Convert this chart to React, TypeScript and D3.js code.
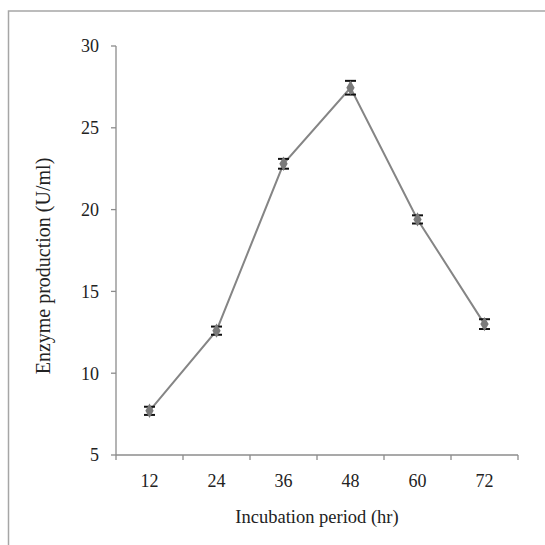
import React from 'react';
import * as d3 from 'd3';

// values
const periods = ['12', '24', '36', '48', '60', '72'];
const enzyme = [7.7, 12.6, 22.8, 27.45, 19.4, 13.0];
const errors = [0.25, 0.25, 0.3, 0.42, 0.25, 0.3];
const yTicks = [5, 10, 15, 20, 25, 30];

const W = 545, H = 545;
const left = 116, right = 518, top = 46, bottom = 455;
const font = '"Liberation Serif", "Times New Roman", serif';
const axisGrey = '#8c8c8c';

export default function App() {
  const x = d3.scaleBand().domain(periods).range([left, right]);
  const y = d3.scaleLinear().domain([5, 30]).range([bottom, top]);

  const pts = periods.map((p, i) => ({ p, v: enzyme[i], e: errors[i] }));
  const line = d3.line<{ p: string; v: number }>()
    .x(d => x(d.p)! + x.bandwidth() / 2)
    .y(d => y(d.v));
  const diamond = d3.symbol().type(d3.symbolDiamond).size(60)();
  const edges = periods.map(p => x(p)!).concat([right]);

  return (
    <svg width={W} height={H} style={{ position: 'absolute', left: 0, top: 0 }}>
      <rect x={0} y={0} width={W} height={H} fill="#fff" />
      {/* outer frame, cut off at right and bottom */}
      <path d={`M8.5,${H} V11 H${W}`} fill="none" stroke="#a6a6a6" strokeWidth={1.5} />

      {/* y axis */}
      <line x1={left} x2={left} y1={top} y2={bottom} stroke={axisGrey} strokeWidth={1.3} />
      {yTicks.map(t => (
        <g key={t}>
          <line x1={left - 5} x2={left} y1={y(t)} y2={y(t)} stroke={axisGrey} strokeWidth={1.3} />
          <text x={99} y={y(t)} dy="0.35em" textAnchor="end" fontFamily={font} fontSize={18} fill="#222">{t}</text>
        </g>
      ))}

      {/* x axis */}
      <line x1={left} x2={right} y1={bottom} y2={bottom} stroke={axisGrey} strokeWidth={1.3} />
      {edges.map((e, i) => (
        <line key={i} x1={e} x2={e} y1={bottom} y2={bottom + 5} stroke={axisGrey} strokeWidth={1.3} />
      ))}
      {periods.map(p => (
        <text key={p} x={x(p)! + x.bandwidth() / 2} y={487} textAnchor="middle" fontFamily={font} fontSize={18} fill="#222">{p}</text>
      ))}

      <text x={(left + right) / 2} y={523} textAnchor="middle" fontFamily={font} fontSize={18.5} fill="#222">Incubation period (hr)</text>
      <text transform={`translate(50,266) rotate(-90)`} textAnchor="middle" fontFamily={font} fontSize={20} fill="#222">Enzyme production (U/ml)</text>

      <path d={line(pts)!} fill="none" stroke="#858585" strokeWidth={2} />

      {pts.map(d => {
        const cx = x(d.p)! + x.bandwidth() / 2;
        return (
          <g key={d.p}>
            <line x1={cx} x2={cx} y1={y(d.v + d.e)} y2={y(d.v - d.e)} stroke="#111" strokeWidth={1.5} />
            <line x1={cx - 5.5} x2={cx + 5.5} y1={y(d.v + d.e)} y2={y(d.v + d.e)} stroke="#111" strokeWidth={2} />
            <line x1={cx - 5.5} x2={cx + 5.5} y1={y(d.v - d.e)} y2={y(d.v - d.e)} stroke="#111" strokeWidth={2} />
            <path d={diamond!} transform={`translate(${cx},${y(d.v)})`} fill="#7a7a7a" />
          </g>
        );
      })}
    </svg>
  );
}
